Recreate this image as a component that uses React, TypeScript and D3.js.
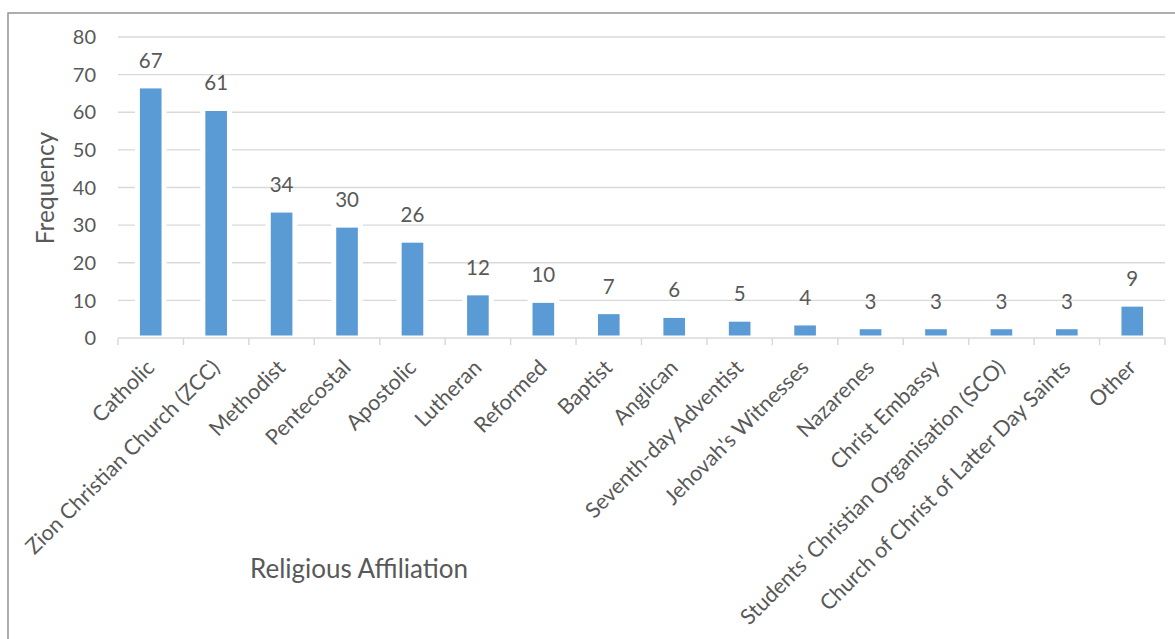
import React from "react";
import * as d3 from "d3";

const categories = [
  "Catholic",
  "Zion Christian Church (ZCC)",
  "Methodist",
  "Pentecostal",
  "Apostolic",
  "Lutheran",
  "Reformed",
  "Baptist",
  "Anglican",
  "Seventh-day Adventist",
  "Jehovah's Witnesses",
  "Nazarenes",
  "Christ Embassy",
  "Students' Christian Organisation (SCO)",
  "Church of Christ of Latter Day Saints",
  "Other",
];
const frequencies = [67, 61, 34, 30, 26, 12, 10, 7, 6, 5, 4, 3, 3, 3, 3, 9];
const yTicks = [0, 10, 20, 30, 40, 50, 60, 70, 80];
const yTitle = "Frequency";
const xTitle = "Religious Affiliation";

const W = 1175;
const H = 639;
const FONT = "Lato, 'Open Sans', sans-serif";
const TEXT = "#595959";
const GRID = "#d9d9d9";
const BAR = "#5b9bd5";

export default function App() {
  const x = d3.scaleBand<string>().domain(categories).range([118, 1165]).paddingInner(0.593).paddingOuter(0.2965);
  const band = d3.scaleBand<string>().domain(categories).range([118, 1165]);
  const y = d3.scaleLinear().domain([0, 80]).range([338, 37]);
  const bw = x.bandwidth();

  return (
    <svg
      width={W}
      height={H}
      style={{ position: "absolute", left: 0, top: 0, background: "#fff" }}
      fontFamily={FONT}
    >
      <rect x={0} y={0} width={W} height={H} fill="#fff" />
      {/* chart frame */}
      <rect x={8} y={13} width={W + 20} height={H + 20} fill="none" stroke="#8c8c8c" strokeWidth={1.4} />

      {/* gridlines */}
      {yTicks.filter((t) => t > 0).map((t) => (
        <line key={t} x1={118} x2={1165} y1={y(t)} y2={y(t)} stroke={GRID} strokeWidth={1.3} />
      ))}

      {/* y tick labels */}
      {yTicks.map((t) => (
        <text key={t} x={96} y={y(t)} dy="0.36em" textAnchor="end" fontSize={20} fill={TEXT}>
          {t}
        </text>
      ))}

      {/* bars */}
      {categories.map((c, i) => {
        const bx = x(c)!;
        const top = y(frequencies[i]);
        return (
          <g key={c}>
            <rect x={bx} y={top} width={bw} height={y(0) - top} fill={BAR} stroke="#fff" strokeWidth={5} />
            <text x={bx + bw / 2} y={top - 18} textAnchor="middle" fontSize={20.5} fill={TEXT}>
              {frequencies[i]}
            </text>
          </g>
        );
      })}

      {/* x axis */}
      <line x1={118} x2={1165} y1={y(0)} y2={y(0)} stroke={GRID} strokeWidth={1.5} />
      {[...categories.map((c) => band(c)!), 1165].map((tx, i) => (
        <line key={i} x1={tx} x2={tx} y1={y(0)} y2={y(0) + 7} stroke={GRID} strokeWidth={1.5} />
      ))}

      {/* x tick labels */}
      {categories.map((c) => {
        const cx = band(c)! + band.bandwidth() / 2;
        return (
          <text
            key={c}
            transform={`translate(${cx + 5},${369}) rotate(-45)`}
            textAnchor="end"
            fontSize={21.5}
            fill={TEXT}
          >
            {c}
          </text>
        );
      })}

      {/* axis titles */}
      <text
        transform={`translate(54,188) rotate(-90)`}
        textAnchor="middle"
        fontSize={24.5}
        fill={TEXT}
      >
        {yTitle}
      </text>
      <text x={359} y={578} textAnchor="middle" fontSize={26} fill={TEXT}>
        {xTitle}
      </text>
    </svg>
  );
}
